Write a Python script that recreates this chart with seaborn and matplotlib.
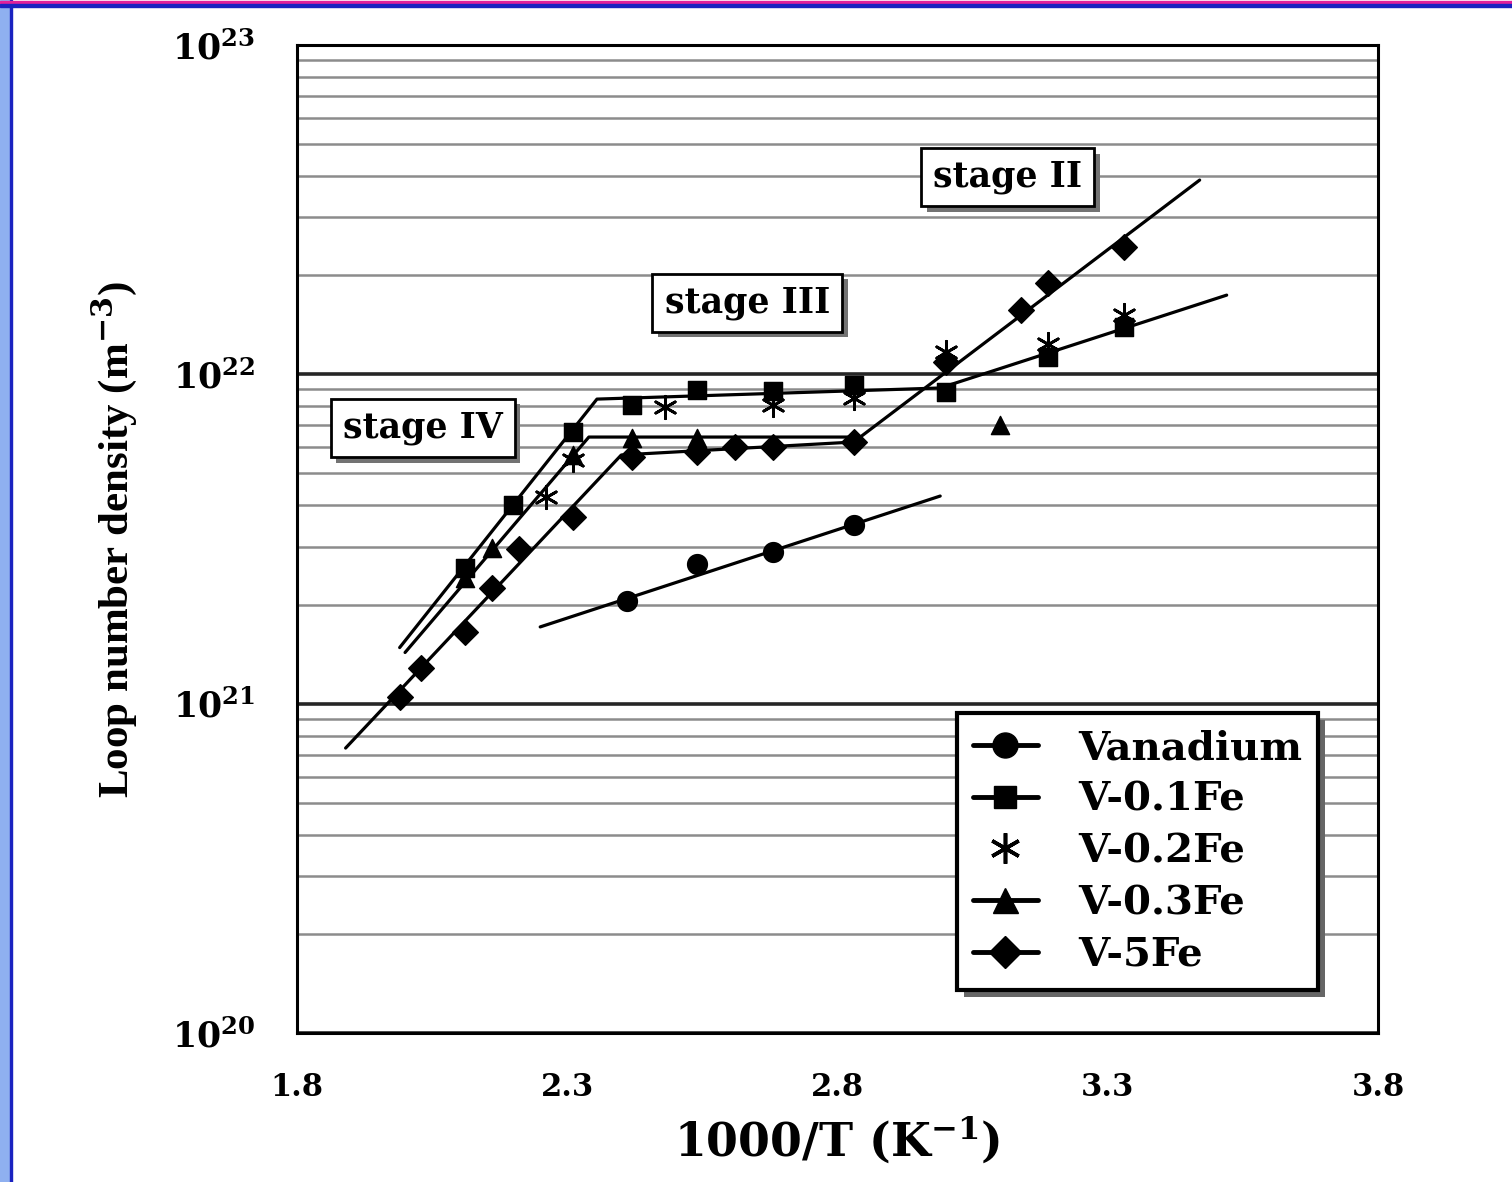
import numpy as np
import pandas as pd
import seaborn as sns
import matplotlib.pyplot as plt
import matplotlib.patheffects as pe
from matplotlib.lines import Line2D
from matplotlib.patches import Rectangle
from matplotlib.ticker import FixedLocator, MultipleLocator, NullFormatter

# datos (1000/T, densidad de lazos m^-3)
van_x = [2.41, 2.54, 2.68, 2.83]
van_y = [2.05e21, 2.66e21, 2.89e21, 3.49e21]

fe01_x = [2.11, 2.20, 2.31, 2.42, 2.54, 2.68, 2.83, 3.00, 3.19, 3.33]
fe01_y = [2.58e21, 4.01e21, 6.68e21, 8.07e21, 8.96e21, 8.89e21, 9.28e21, 8.83e21, 1.13e22, 1.39e22]

fe02_x = [2.26, 2.31, 2.48, 2.68, 2.83, 3.00, 3.19, 3.33]
fe02_y = [4.24e21, 5.49e21, 7.96e21, 8.07e21, 8.47e21, 1.17e22, 1.24e22, 1.51e22]

fe03_x = [2.11, 2.16, 2.31, 2.42, 2.54, 3.10]
fe03_y = [2.41e21, 2.97e21, 5.69e21, 6.41e21, 6.41e21, 7.02e21]

fe5_x = [1.99, 2.03, 2.11, 2.16, 2.21, 2.31, 2.42, 2.54, 2.61, 2.68, 2.83, 3.00, 3.14, 3.19, 3.33]
fe5_y = [1.05e21, 1.28e21, 1.65e21, 2.24e21, 2.95e21, 3.69e21, 5.61e21, 5.81e21, 6.01e21,
         6.01e21, 6.22e21, 1.09e22, 1.57e22, 1.89e22, 2.44e22]

# rectas de ajuste (tramos)
van_fit_x = [2.25, 2.99]
van_fit_y = [1.71e21, 4.27e21]
fe01_fit_x = [1.99, 2.355, 2.99, 3.52]
fe01_fit_y = [1.48e21, 8.41e21, 9.09e21, 1.74e22]
fe03_fit_x = [2.00, 2.34, 2.83]
fe03_fit_y = [1.43e21, 6.45e21, 6.45e21]
fe5_fit_x = [1.89, 2.40, 2.83, 3.47]
fe5_fit_y = [7.33e20, 5.69e21, 6.23e21, 3.89e22]

labels = ['Vanadium', 'V-0.1Fe', 'V-0.2Fe', 'V-0.3Fe', 'V-5Fe']
xticks = [1.8, 2.3, 2.8, 3.3, 3.8]
yticks = [1e20, 1e21, 1e22, 1e23]

sns.set_style('white')
plt.rcParams['font.family'] = ['DejaVu Serif']
plt.rcParams['font.weight'] = 'bold'
plt.rcParams['mathtext.fontset'] = 'dejavuserif'
for k in ['text.color', 'axes.labelcolor', 'xtick.color', 'ytick.color']:
    plt.rcParams[k] = 'black'

fig = plt.figure(figsize=(15.12, 11.82), dpi=100)
ax = fig.add_axes([0.1964, 0.1261, 0.715, 0.8358])

star = (6, 2, 0)
lw = 2.3

# rectas
for fx, fy in [(van_fit_x, van_fit_y), (fe01_fit_x, fe01_fit_y),
               (fe03_fit_x, fe03_fit_y), (fe5_fit_x, fe5_fit_y)]:
    sns.lineplot(x=fx, y=fy, color='k', lw=lw, sort=False, estimator=None, ax=ax)

# puntos
sns.scatterplot(x=van_x, y=van_y, marker='o', s=200, color='k', edgecolor='k', ax=ax, zorder=5)
sns.scatterplot(x=fe01_x, y=fe01_y, marker='s', s=170, color='k', edgecolor='k', ax=ax, zorder=5)
sns.scatterplot(x=fe02_x, y=fe02_y, marker=star, s=260, color='k', linewidth=2, ax=ax, zorder=5)
sns.scatterplot(x=fe03_x, y=fe03_y, marker='^', s=170, color='k', edgecolor='k', ax=ax, zorder=5)
sns.scatterplot(x=fe5_x, y=fe5_y, marker='D', s=170, color='k', edgecolor='k', ax=ax, zorder=5)

ax.set_yscale('log')
ax.set_xlim(1.8, 3.8)
ax.set_ylim(1e20, 1e23)

# rejilla horizontal
ax.yaxis.set_major_locator(FixedLocator(yticks))
ax.set_yticklabels([r'$\mathbf{10^{%d}}$' % int(np.log10(v)) for v in yticks], fontsize=25)
ax.yaxis.grid(True, which='major', color='0.15', lw=2.6)
ax.yaxis.grid(True, which='minor', color='0.55', lw=1.8)
ax.tick_params(axis='y', which='both', length=0, pad=30)
ax.yaxis.set_minor_formatter(NullFormatter())

ax.xaxis.set_major_locator(FixedLocator(xticks))
ax.xaxis.set_minor_locator(MultipleLocator(0.1))
ax.set_xticklabels([str(v) for v in xticks], fontsize=22, fontweight='bold')
ax.tick_params(axis='x', which='both', direction='in', length=7, width=1.2, color='0.3', pad=28)
ax.xaxis.grid(False)

for sp in ax.spines.values():
    sp.set_color('k')
    sp.set_linewidth(2.2)

ax.set_xlabel(r'1000/T (K$^{\mathbf{-1}}$)', fontsize=33, fontweight='bold', labelpad=8)
ax.set_ylabel(r'Loop number density (m$^{\mathbf{-3}}$)', fontsize=31, fontweight='bold',
              family='Liberation Serif', labelpad=24)

# cajas de etapas
for txt, x, y in [('stage II', 3.115, 3.97e22), ('stage III', 2.633, 1.65e22), ('stage IV', 2.033, 6.87e21)]:
    t = ax.text(x, y, txt, fontsize=25, fontweight='bold', ha='center', va='center', zorder=6,
                bbox=dict(boxstyle='square,pad=0.35', fc='white', ec='k', lw=2))
    t.get_bbox_patch().set_path_effects([pe.SimplePatchShadow(offset=(4, -4), shadow_rgbFace='0.45', alpha=1),
                                         pe.Normal()])

# leyenda
handles = [
    Line2D([], [], color='k', lw=3.5, marker='o', markersize=18),
    Line2D([], [], color='k', lw=3.5, marker='s', markersize=16),
    Line2D([], [], color='k', lw=0, marker=star, markersize=22, markeredgewidth=2.6),
    Line2D([], [], color='k', lw=3.5, marker='^', markersize=18),
    Line2D([], [], color='k', lw=3.5, marker='D', markersize=16),
]
leg = ax.legend(handles, labels, loc='lower left', bbox_to_anchor=(0.6105, 0.0435),
                borderaxespad=0, handlelength=1.6, handletextpad=1.0,
                labelspacing=0.34, borderpad=0.4, fancybox=False, framealpha=1,
                edgecolor='k', prop={'family': 'DejaVu Serif', 'weight': 'bold', 'size': 29})
leg.get_frame().set_linewidth(3)
leg.get_frame().set_path_effects([pe.SimplePatchShadow(offset=(5, -5), shadow_rgbFace='0.4', alpha=1),
                                  pe.Normal()])
leg.set_zorder(10)

# marco de la diapositiva
fig.patches.append(Rectangle((0, 0), 10 / 1512, 1, transform=fig.transFigure, color='#8fb0f0', zorder=0))
fig.patches.append(Rectangle((10 / 1512, 0), 2 / 1512, 1, transform=fig.transFigure, color='#1a22c0', zorder=0))
fig.patches.append(Rectangle((0, 1 - 3 / 1182), 1, 2 / 1182, transform=fig.transFigure, color='#e0209a', zorder=0))
fig.patches.append(Rectangle((0, 1 - 7 / 1182), 1, 3 / 1182, transform=fig.transFigure, color='#1a22c0', zorder=0))

fig.savefig('out.png', dpi=100)
